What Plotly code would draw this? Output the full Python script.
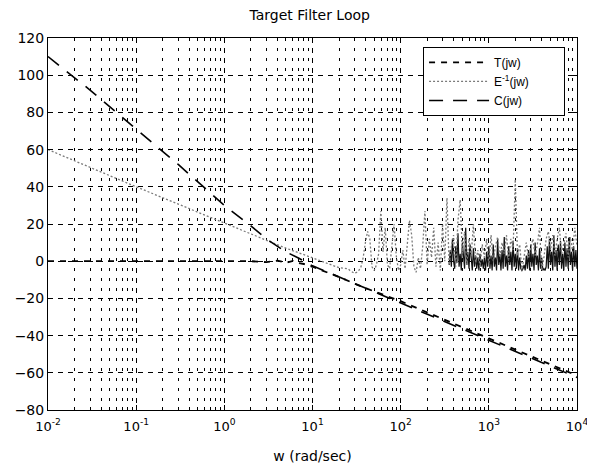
import numpy as np
import plotly.graph_objects as go

# ---------------- data ----------------
# T(jw): flat 0 dB at low frequency, then -20 dB/decade
w_T = [0.01, 0.1, 1, 2, 3, 4, 5, 6, 7, 8, 10, 15, 20, 40, 100, 1000, 10000]
T_db = [0, 0, 0, 0, -0.5, 0.3, -0.8, 0.2, -1.0, -1.5, -3.0, -6.0, -8.5, -14.5, -21.5, -41.5, -61.5]

# C(jw): -40 dB/decade at low frequency, -20 dB/decade at high frequency
w_C = [0.01, 0.03, 0.1, 0.3, 1, 2, 3, 5, 7, 10, 30, 100, 1000, 10000]
C_db = [110, 92, 71, 52, 30, 19, 12, 5, 1.6, -2.5, -12, -22.5, -42.5, -62.5]

# E^-1(jw): follows the loop at low frequency, ~0 dB (noisy) at high frequency
w_E_low = [0.01, 0.1, 1, 3, 5, 8, 12, 16, 20, 25]
E_low_db = [60, 40, 20.5, 11, 7, 3.5, 0.5, -2, -3.5, -4]
# high-frequency part, log10(w) from 1.4 to 4.0 in steps of 0.025
E_high_db = [
    -4, -5, -6, -6.5, -6, -5, -3,
    2, 10, 16, 12,
    -3, -5, -2, 4,
    27, 5, 18, -2,
    -4, 8, 20, 3,
    -5, -2, 6, -4,
    10, 22, 14, -3,
    -6, 2, -4, 8,
    27, -2, 12, 2,
    18, -3, 10, -5,
    20, 0, 34, -2,
    8, 14, -3, 22,
    33, 4, 16, -2,
    12, 3, 20, -1,
    6, -3, 9, 2,
    12, -2, 14, 0,
    8, 13, 2, 10,
    4, 14, 1, 12,
    6, 44, 3, 9,
    -5, 4, 10, 2,
    8, 12, 3, 9,
    18, -5, 2, 12,
    16, 6, 14, 3,
    12, 18, 4, 10,
    15, 2, 13, 5,
    18, 8,
]
# dense dark band of E^-1, log10(w) from 2.55 to 4.0 in steps of 0.0125
E_dense_db = [
    -2, 6, -3, 12, 0, -4, 8, -1,
    15, -3, 4, -5, 10, 2, -4, 18,
    -2, 5, -4, 9, 1, -5, 7, -3,
    3, -4, 2, -5, 4, -3, 1, -4,
    2, -5, 5, -3, 8, -4, 3, -5,
    9, -3, 2, -5, 12, -2, 4, -5,
    6, -4, 13, -3, 3, -5, 8, -2,
    5, -5, 11, -3, 4, -4, 7, -5,
    2, -4, -5, -4, -2, -5, 3, -4,
    6, -5, 9, -3, 4, -5, 10, -2,
    3, -5, 7, -4, 2, -5, -4, -5,
    -3, 8, -4, 12, -2, 5, -5, 14,
    -3, 6, -5, 9, -2, 11, -4, 4,
    -5, 10, -3, 7, -4, 13, -2, 5,
    -5, 8, -3, 6, -4,
]

x_tick_vals = [0.01, 0.1, 1, 10, 100, 1000, 10000]
x_tick_text = ["10<sup>-2</sup>", "10<sup>-1</sup>", "10<sup>0</sup>", "10<sup>1</sup>",
               "10<sup>2</sup>", "10<sup>3</sup>", "10<sup>4</sup>"]
y_tick_vals = [-80, -60, -40, -20, 0, 20, 40, 60, 80, 100, 120]

# frequency grids for the sampled parts
w_E_high = np.logspace(1.4, 4.0, len(E_high_db))
w_E_dense = np.logspace(2.55, 4.0, len(E_dense_db))
w_E = list(w_E_low) + list(w_E_high)
E_db = list(E_low_db) + list(E_high_db)

# ---------------- figure ----------------
fig = go.Figure()

fig.add_trace(go.Scatter(
    x=w_E_dense, y=E_dense_db, mode="lines", showlegend=False, hoverinfo="skip",
    line=dict(color="#111111", width=1.2)))

pad = "&nbsp;" * 9
fig.add_trace(go.Scatter(
    x=w_T, y=T_db, mode="lines", name="T(jw)" + pad,
    line=dict(color="black", width=1.8, dash="6px,6px")))

fig.add_trace(go.Scatter(
    x=w_E, y=E_db, mode="lines", name="E<sup>-1</sup>(jw)" + pad,
    line=dict(color="#7a7a7a", width=1.3, dash="2px,2px")))

fig.add_trace(go.Scatter(
    x=w_C, y=C_db, mode="lines", name="C(jw)" + pad,
    line=dict(color="black", width=1.6, dash="14px,10px")))

font = "DejaVu Sans, sans-serif"

# the page body adds an 8px offset, so the figure is 8px smaller each way
fig.update_layout(
    width=587, height=460,
    paper_bgcolor="white", plot_bgcolor="white",
    margin=dict(l=40, r=18, t=30, b=58, autoexpand=False),
    font=dict(family=font, size=13, color="black"),
    title=dict(text="Target Filter Loop", x=0.514, xanchor="center",
               yref="container", y=0.985, yanchor="middle",
               font=dict(size=14, family=font)),
    showlegend=True,
    legend=dict(x=0.709, y=0.976, xanchor="left", yanchor="top",
                bgcolor="white", bordercolor="black", borderwidth=1,
                font=dict(size=12, family="Liberation Sans, Arial, sans-serif"),
                itemwidth=60, traceorder="normal"),
    xaxis=dict(
        type="log", range=[-2, 4], automargin=False,
        tickmode="array", tickvals=x_tick_vals, ticktext=x_tick_text,
        tickfont=dict(size=13, family=font), ticklabelstandoff=4,
        showline=True, linecolor="black", linewidth=1, mirror="ticks",
        ticks="inside", ticklen=5, tickcolor="black",
        showgrid=True, gridcolor="black", gridwidth=1, griddash="5px,5px",
        minor=dict(dtick="D1", showgrid=True, gridcolor="black", gridwidth=1.2,
                   griddash="3px,7px", ticks="inside", ticklen=3,
                   tickcolor="black"),
        title=dict(text="w (rad/sec)", standoff=18, font=dict(size=14, family=font)),
        zeroline=False,
    ),
    yaxis=dict(
        range=[-80, 120], tickmode="array", tickvals=y_tick_vals, automargin=False,
        tickfont=dict(size=14, family=font),
        showline=True, linecolor="black", linewidth=1, mirror="ticks",
        ticks="inside", ticklen=5, tickcolor="black",
        showgrid=True, gridcolor="black", gridwidth=1, griddash="5px,5px",
        zeroline=False,
    ),
)

fig.write_html("out.html")
